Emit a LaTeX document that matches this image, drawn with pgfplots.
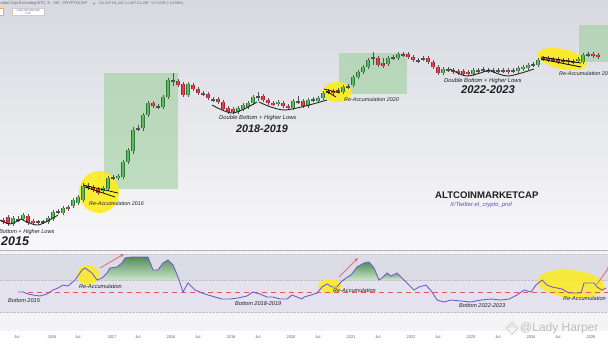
\documentclass[border=0pt]{standalone}
\usepackage{pgfplots}
\pgfplotsset{compat=1.18}
\usepackage{pgfplotstable}
\usepackage{fontspec}
\setmainfont{Liberation Sans}
\usetikzlibrary{arrows.meta}
\definecolor{cgreen}{RGB}{96,186,96}
\definecolor{cgreenD}{RGB}{50,120,55}
\definecolor{cred}{RGB}{226,64,76}
\definecolor{credD}{RGB}{160,40,50}
\definecolor{wick}{RGB}{80,80,85}
\definecolor{hiyel}{RGB}{252,236,30}
\definecolor{boxg}{RGB}{150,205,150}
\definecolor{osc}{RGB}{110,96,198}
\definecolor{dred}{RGB}{226,84,96}
\definecolor{arrred}{RGB}{232,110,120}
\definecolor{txt}{RGB}{30,30,35}
\definecolor{twit}{RGB}{92,80,170}
\definecolor{bgtop}{RGB}{216,217,224}
\definecolor{bgbot}{RGB}{248,248,250}
\definecolor{lowbg}{RGB}{244,244,247}
\definecolor{bandA}{RGB}{220,220,230}
\definecolor{bandB}{RGB}{229,226,240}

% columns: x, body top, body bottom, wick top, wick bottom (image pixel rows)
\pgfplotstableread{
x t b wt wb
13 218 224 216 226
23 215 219 213 221
48 218 222 216 224
53 212 219 210 221
63 208 213 206 215
73 200 206 198 208
78 197 203 195 205
83 186 200 183 202
103 188 191 186 193
108 178 189 176 191
118 176 178 174 180
123 162 177 160 179
128 150 162 148 164
133 130 151 127 154
143 115 128 113 131
148 103 115 101 117
163 97 107 95 109
168 80 97 78 99
188 84 95 82 97
238 108 112 106 114
243 105 109 103 111
248 103 107 101 109
253 97 103 95 105
278 102 104 100 106
293 101 108 99 110
308 100 106 98 108
318 98 101 96 103
323 93 98 91 100
343 87 92 85 94
353 77 85 75 87
358 72 77 70 79
363 67 72 65 74
368 60 67 58 69
388 58 64 56 66
398 54 58 52 60
443 69 73 67 75
473 70 74 68 76
518 68 71 66 73
523 67 69 65 71
528 65 68 63 70
538 60 65 58 67
578 59 61 57 63
583 55 62 53 64
}\greentab
\pgfplotstableread{
x t b wt wb
3 220 222 218 224
8 217 224 215 226
28 216 223 214 225
33 221 223 219 225
68 207 209 205 211
93 187 190 185 192
98 189 193 187 195
153 103 106 101 108
178 81 85 79 87
183 84 95 82 97
193 85 89 83 91
198 89 93 87 95
208 94 98 92 100
218 99 102 97 104
223 102 109 100 111
228 108 112 106 114
233 109 112 107 114
263 96 100 94 102
268 100 103 98 105
273 103 104.5 101 106
283 103 106 101 108
288 106 108 104 110
303 101 106 99 108
333 91 93 89 95
378 58 65 56 67
383 63 66 58 68
408 54 57 52 59
413 57 60 55 62
428 58 62 56 64
433 62 67 60 69
438 67 73 65 75
453 70 72 68 74
458 71 73 69 75
463 71 74 69 76
468 72 74 70 76
508 70 72 68 74
548 58 60 56 62
558 59 62 57 64
568 60 62 58 64
593 54 56 52 58
598 55 57 53 59
}\redtab
\pgfplotstableread{
x t b wt wb
18 219 220 216 222
38 221.5 222.5 220 224
43 221.5 222.5 220 224
58 211 212 209 214
88 186 188 183 190
113 177 178 175 180
138 128 129 125 131
158 106 107 104 109
173 80 81 73 86
203 93 94 91 96
213 99 100 97 102
258 96 97 92 101
298 101 102 96 104
313 99 100 97 102
328 91 92 89 94
338 90 91 88 93
348 86 87 84 89
373 57 58 52 65
393 57 58 55 60
403 54 55 52 57
418 60 61 58 63
423 58 59 56 61
448 69 70 67 72
478 70 71 68 73
483 69 70 67 72
488 70 71 68 73
493 70 71 68 73
498 70 71 68 73
503 70 71 68 73
513 70 71 68 73
533 64 65 62 67
543 58 59 56 61
553 59 60 57 62
563 60 61 58 63
573 61 62 59 64
588 54 55 52 57
}\dojitab

\pgfplotsset{
  barstyle/.style 2 args={draw=none, mark=none, forget plot,
    error bars/.cd, y dir=both, y explicit, error mark=none,
    error bar style={draw=#1, line width=#2}},
}
\newcommand{\candles}[3]{%
  \addplot[barstyle={wick}{0.6pt}] table[x=x, y expr={(\thisrow{wt}+\thisrow{wb})/2}, y error expr={(\thisrow{wb}-\thisrow{wt})/2}] {#1};
  \addplot[barstyle={#3}{3.6pt}] table[x=x, y expr={(\thisrow{t}+\thisrow{b})/2}, y error expr={(\thisrow{b}-\thisrow{t})/2+0.4}] {#1};
  \addplot[barstyle={#2}{2.8pt}] table[x=x, y expr={(\thisrow{t}+\thisrow{b})/2}, y error expr={(\thisrow{b}-\thisrow{t})/2}] {#1};
}

\begin{document}
\begin{tikzpicture}
\path[use as bounding box, clip] (0,0) rectangle (608pt,343pt);
\begin{axis}[
  at={(0,0)}, anchor=south west,
  width=608pt, height=343pt, scale only axis,
  xmin=0, xmax=608, ymin=0, ymax=343, y dir=reverse,
  axis lines=none, clip=true,
]
% ---------- backgrounds ----------
\fill[white] (axis cs:0,0) rectangle (axis cs:608,343);
\fill[top color=bgtop, bottom color=bgbot] (axis cs:0,0) rectangle (axis cs:608,250);
\fill[lowbg] (axis cs:0,250) rectangle (axis cs:608,331);
\fill[bandA] (axis cs:0,254) rectangle (axis cs:608,280);
\fill[bandB] (axis cs:0,280) rectangle (axis cs:608,312);
\draw[gray!60, line width=0.4pt] (axis cs:0,250.5) -- (axis cs:608,250.5);
\draw[gray!50, line width=0.4pt, densely dotted] (axis cs:0,280) -- (axis cs:608,280);
\draw[gray!50, line width=0.4pt, densely dotted] (axis cs:0,312) -- (axis cs:608,312);
\draw[gray!40, line width=0.4pt, densely dotted] (axis cs:0,254) -- (axis cs:608,254);
\draw[gray!60, line width=0.4pt] (axis cs:0,331) -- (axis cs:608,331);
\fill[white] (axis cs:0,331.2) rectangle (axis cs:608,343);

% ---------- header ----------
\node[anchor=west, inner sep=0pt, text=gray!80!black, font=\fontsize{4}{5}\selectfont] at (axis cs:-3,3.5) {Market Cap Excluding BTC, 5 · 1M · CRYPTOCAP};
\fill[cgreen] (axis cs:94,3.5) circle (1.2pt);
\node[anchor=west, inner sep=0pt, text=gray!80!black, font=\fontsize{3.6}{4.5}\selectfont] at (axis cs:99,3.5) {O1.42T H1.44T L1.28T C1.28T −171.57B (−10.58\%)};
\draw[orange!70, fill=white, line width=0.3pt] (axis cs:-1,8) rectangle (axis cs:3,15);
\draw[gray!40, fill=white, line width=0.3pt] (axis cs:12,8) rectangle (axis cs:44,15.5);
\node[inner sep=0pt, text=twit, font=\fontsize{2.8}{3.2}\selectfont, align=center] at (axis cs:28,11.7) {1,281,193,609,630\\0.1T};

% ---------- green boxes ----------
\fill[boxg, opacity=0.55] (axis cs:104,73) rectangle (axis cs:178,189);
\fill[boxg, opacity=0.55] (axis cs:339,53) rectangle (axis cs:407,94);
\fill[boxg, opacity=0.55] (axis cs:579,25) rectangle (axis cs:610,62);

% ---------- yellow highlights (top) ----------
\fill[hiyel, opacity=0.9] (axis cs:99,192) ellipse [x radius=20pt, y radius=21pt];
\fill[hiyel, opacity=0.9] (axis cs:337,92) ellipse [x radius=15pt, y radius=10pt];
\fill[hiyel, opacity=0.9, rotate around={-12:(axis cs:562,59)}] (axis cs:562,59) ellipse [x radius=25pt, y radius=10pt];

% ---------- candles ----------
\candles{\greentab}{cgreen}{cgreenD}
\candles{\redtab}{cred}{credD}
\candles{\dojitab}{wick}{wick}

% ---------- trend lines in highlights ----------
\draw[black, line width=0.7pt] (axis cs:83,185) -- (axis cs:118,193);
\draw[black, line width=0.7pt] (axis cs:85,187) -- (axis cs:115,197);
\draw[black, line width=0.7pt] (axis cs:324,89) -- (axis cs:340,93);
\draw[black, line width=0.7pt] (axis cs:326,91) -- (axis cs:336,97);
\draw[black, line width=0.8pt] (axis cs:541,57) -- (axis cs:581,63);
\draw[black, line width=0.8pt] (axis cs:541,59) -- (axis cs:581,67);

% ---------- bottom arcs ----------
\addplot[black!85, line width=0.9pt, smooth, forget plot] coordinates {(-2,219) (10,224) (21,219)};
\addplot[black!85, line width=0.9pt, smooth, forget plot] coordinates {(21,219) (38,225) (58,215)};
\addplot[black!85, line width=0.9pt, smooth, forget plot] coordinates {(212,105) (233,113) (257,102)};
\addplot[black!85, line width=0.9pt, smooth, forget plot] coordinates {(259,102) (285,110) (327,100)};
\addplot[black!85, line width=0.9pt, smooth, forget plot] coordinates {(450,69) (467,76) (489,70)};
\addplot[black!85, line width=0.9pt, smooth, forget plot] coordinates {(489,70) (508,76) (534,69)};

% ---------- top texts ----------
\node[anchor=west, inner sep=0pt, text=txt, font=\fontsize{5.6}{6}\selectfont\itshape] at (axis cs:-1,232) {Bottom + Higher Lows};
\node[anchor=west, inner sep=0pt, text=txt, font=\fontsize{12.5}{13}\selectfont\bfseries\itshape] at (axis cs:1,241) {2015};
\node[anchor=west, inner sep=0pt, text=txt, font=\fontsize{5.4}{6}\selectfont\itshape] at (axis cs:89,203.5) {Re-Accumulation 2016};
\node[anchor=west, inner sep=0pt, text=txt, font=\fontsize{5.8}{6}\selectfont\itshape] at (axis cs:219,117.5) {Double Bottom + Higher Lows};
\node[anchor=west, inner sep=0pt, text=txt, font=\fontsize{10.8}{11}\selectfont\bfseries\itshape] at (axis cs:236,128.5) {2018-2019};
\node[anchor=west, inner sep=0pt, text=txt, font=\fontsize{5.4}{6}\selectfont\itshape] at (axis cs:344,99.5) {Re-Accumulation 2020};
\node[anchor=west, inner sep=0pt, text=txt, font=\fontsize{5.8}{6}\selectfont\itshape] at (axis cs:444,80.5) {Double Bottom + Higher Lows};
\node[anchor=west, inner sep=0pt, text=txt, font=\fontsize{11.2}{12}\selectfont\bfseries\itshape] at (axis cs:461,90) {2022-2023};
\node[anchor=west, inner sep=0pt, text=txt, font=\fontsize{5.4}{6}\selectfont\itshape] at (axis cs:559,73.5) {Re-Accumulation 2024};
\node[anchor=west, inner sep=0pt, text=txt, font=\fontsize{9.6}{10}\selectfont\bfseries] at (axis cs:435,195.5) {ALTCOINMARKETCAP};
\node[anchor=west, inner sep=0pt, text=twit, font=\fontsize{5.9}{7}\selectfont\itshape] at (axis cs:450,204.5) {X/Twitter:el\_crypto\_prof};

% ---------- lower panel ----------
\addplot[draw=none, forget plot, top color=cgreenD!90, bottom color=cgreen!35, opacity=0.9] coordinates {
 (98,280) (102,278) (107,273) (110,268) (117,267) (122,263) (125,258) (132,257) (148,257)
 (153,270) (158,270) (163,263) (168,260) (173,265) (178,277) (179,280)};
\addplot[draw=none, forget plot, top color=cgreenD!90, bottom color=cgreen!35, opacity=0.9] coordinates {
 (344,280) (346,278) (351,275) (357,267) (364,263) (369,262) (374,268) (379,280)};
\addplot[draw=none, forget plot, top color=cgreenD!70, bottom color=cgreen!30, opacity=0.9] coordinates {
 (381,280) (382,278) (387,273) (391,276) (397,273) (402,278) (403,280)};

\fill[hiyel, opacity=0.85] (axis cs:88,275) ellipse [x radius=11pt, y radius=10pt];
\fill[hiyel, opacity=0.85] (axis cs:330,286) ellipse [x radius=12pt, y radius=7pt];
\fill[hiyel, opacity=0.85, rotate around={-6:(axis cs:571,284)}] (axis cs:571,284) ellipse [x radius=34pt, y radius=14pt];

\addplot[dred, line width=1pt, dash pattern=on 5pt off 4pt, forget plot] coordinates {(28,292) (610,292)};

\addplot[osc, line width=0.9pt, forget plot] coordinates {
(18,292) (23,292) (28,294) (33,295) (40,296) (47,294) (53,290) (58,288) (63,285) (68,286)
(75,280) (82,270) (85,268) (92,273) (97,280) (102,278) (107,273) (110,268) (117,267) (122,263)
(125,258) (132,257) (148,257) (153,270) (158,270) (163,263) (168,260) (173,265) (178,277) (183,292)
(188,283) (195,290) (202,293) (208,295) (215,297) (222,299) (230,299) (238,298) (247,296) (253,292)
(260,294) (267,297) (273,297) (280,299) (287,299) (292,295) (297,297) (302,299) (304,297) (311,295)
(317,293) (322,287) (327,284) (332,287) (337,287) (341,282) (346,278) (351,275) (357,267) (364,263)
(369,262) (374,268) (379,280) (382,278) (387,273) (391,276) (397,273) (402,278) (407,283) (414,290)
(419,287) (426,285) (432,292) (437,300) (444,302) (451,300) (461,301) (471,302) (481,300) (491,299)
(501,300) (509,299) (517,295) (524,290) (531,292) (536,285) (542,280) (547,285) (552,287) (557,288)
(562,289) (569,293) (581,293) (584,283) (589,283) (594,283) (597,287) (602,290) (606,288)};

\draw[arrred, line width=0.9pt, -{Stealth[length=4pt,width=3.5pt]}] (axis cs:100,268) -- (axis cs:124,254);
\draw[arrred, line width=0.9pt, -{Stealth[length=4pt,width=3.5pt]}] (axis cs:339,277) -- (axis cs:358,258);
\draw[arrred, line width=0.9pt, -{Stealth[length=4pt,width=3.5pt]}] (axis cs:597,284) -- (axis cs:610,266);

\node[anchor=west, inner sep=0pt, text=txt, font=\fontsize{5.6}{6}\selectfont\itshape] at (axis cs:8,301) {Bottom 2015};
\node[anchor=west, inner sep=0pt, text=txt, font=\fontsize{5.6}{6}\selectfont\itshape] at (axis cs:79,286) {Re-Accumulation};
\node[anchor=west, inner sep=0pt, text=txt, font=\fontsize{5.6}{6}\selectfont\itshape] at (axis cs:235,304) {Bottom 2018-2019};
\node[anchor=west, inner sep=0pt, text=txt, font=\fontsize{5.6}{6}\selectfont\itshape] at (axis cs:333,290) {Re-Accumulation};
\node[anchor=west, inner sep=0pt, text=txt, font=\fontsize{5.6}{6}\selectfont\itshape] at (axis cs:459,306) {Bottom 2022-2023};
\node[anchor=west, inner sep=0pt, text=txt, font=\fontsize{5.6}{6}\selectfont\itshape] at (axis cs:563,298) {Re-Accumulation};

\draw[gray!45, line width=0.7pt] (axis cs:506,328) -- (axis cs:512,322) -- (axis cs:518,328) -- (axis cs:512,334) -- cycle;
\draw[gray!45, line width=0.5pt] (axis cs:509,328) -- (axis cs:512,325) -- (axis cs:515,328);
\node[anchor=west, inner sep=0pt, text=gray!50, font=\fontsize{12}{13}\selectfont] at (axis cs:520,328) {@Lady Harper};

\foreach \xx/\lab in {17/Jul,52/2016,78/Jul,112/2017,138/Jul,171/2018,198/Jul,231/2019,258/Jul,291/2020,318/Jul,351/2021,378/Jul,411/2022,438/Jul,471/2023,498/Jul,531/2024,558/Jul,591/2025}{
  \edef\tmp{\noexpand\node[inner sep=0pt, text=gray!75!black, font=\noexpand\fontsize{4}{5}\noexpand\selectfont] at (axis cs:\xx,337.5) {\lab};}
  \tmp
}
\end{axis}
\end{tikzpicture}
\end{document}
